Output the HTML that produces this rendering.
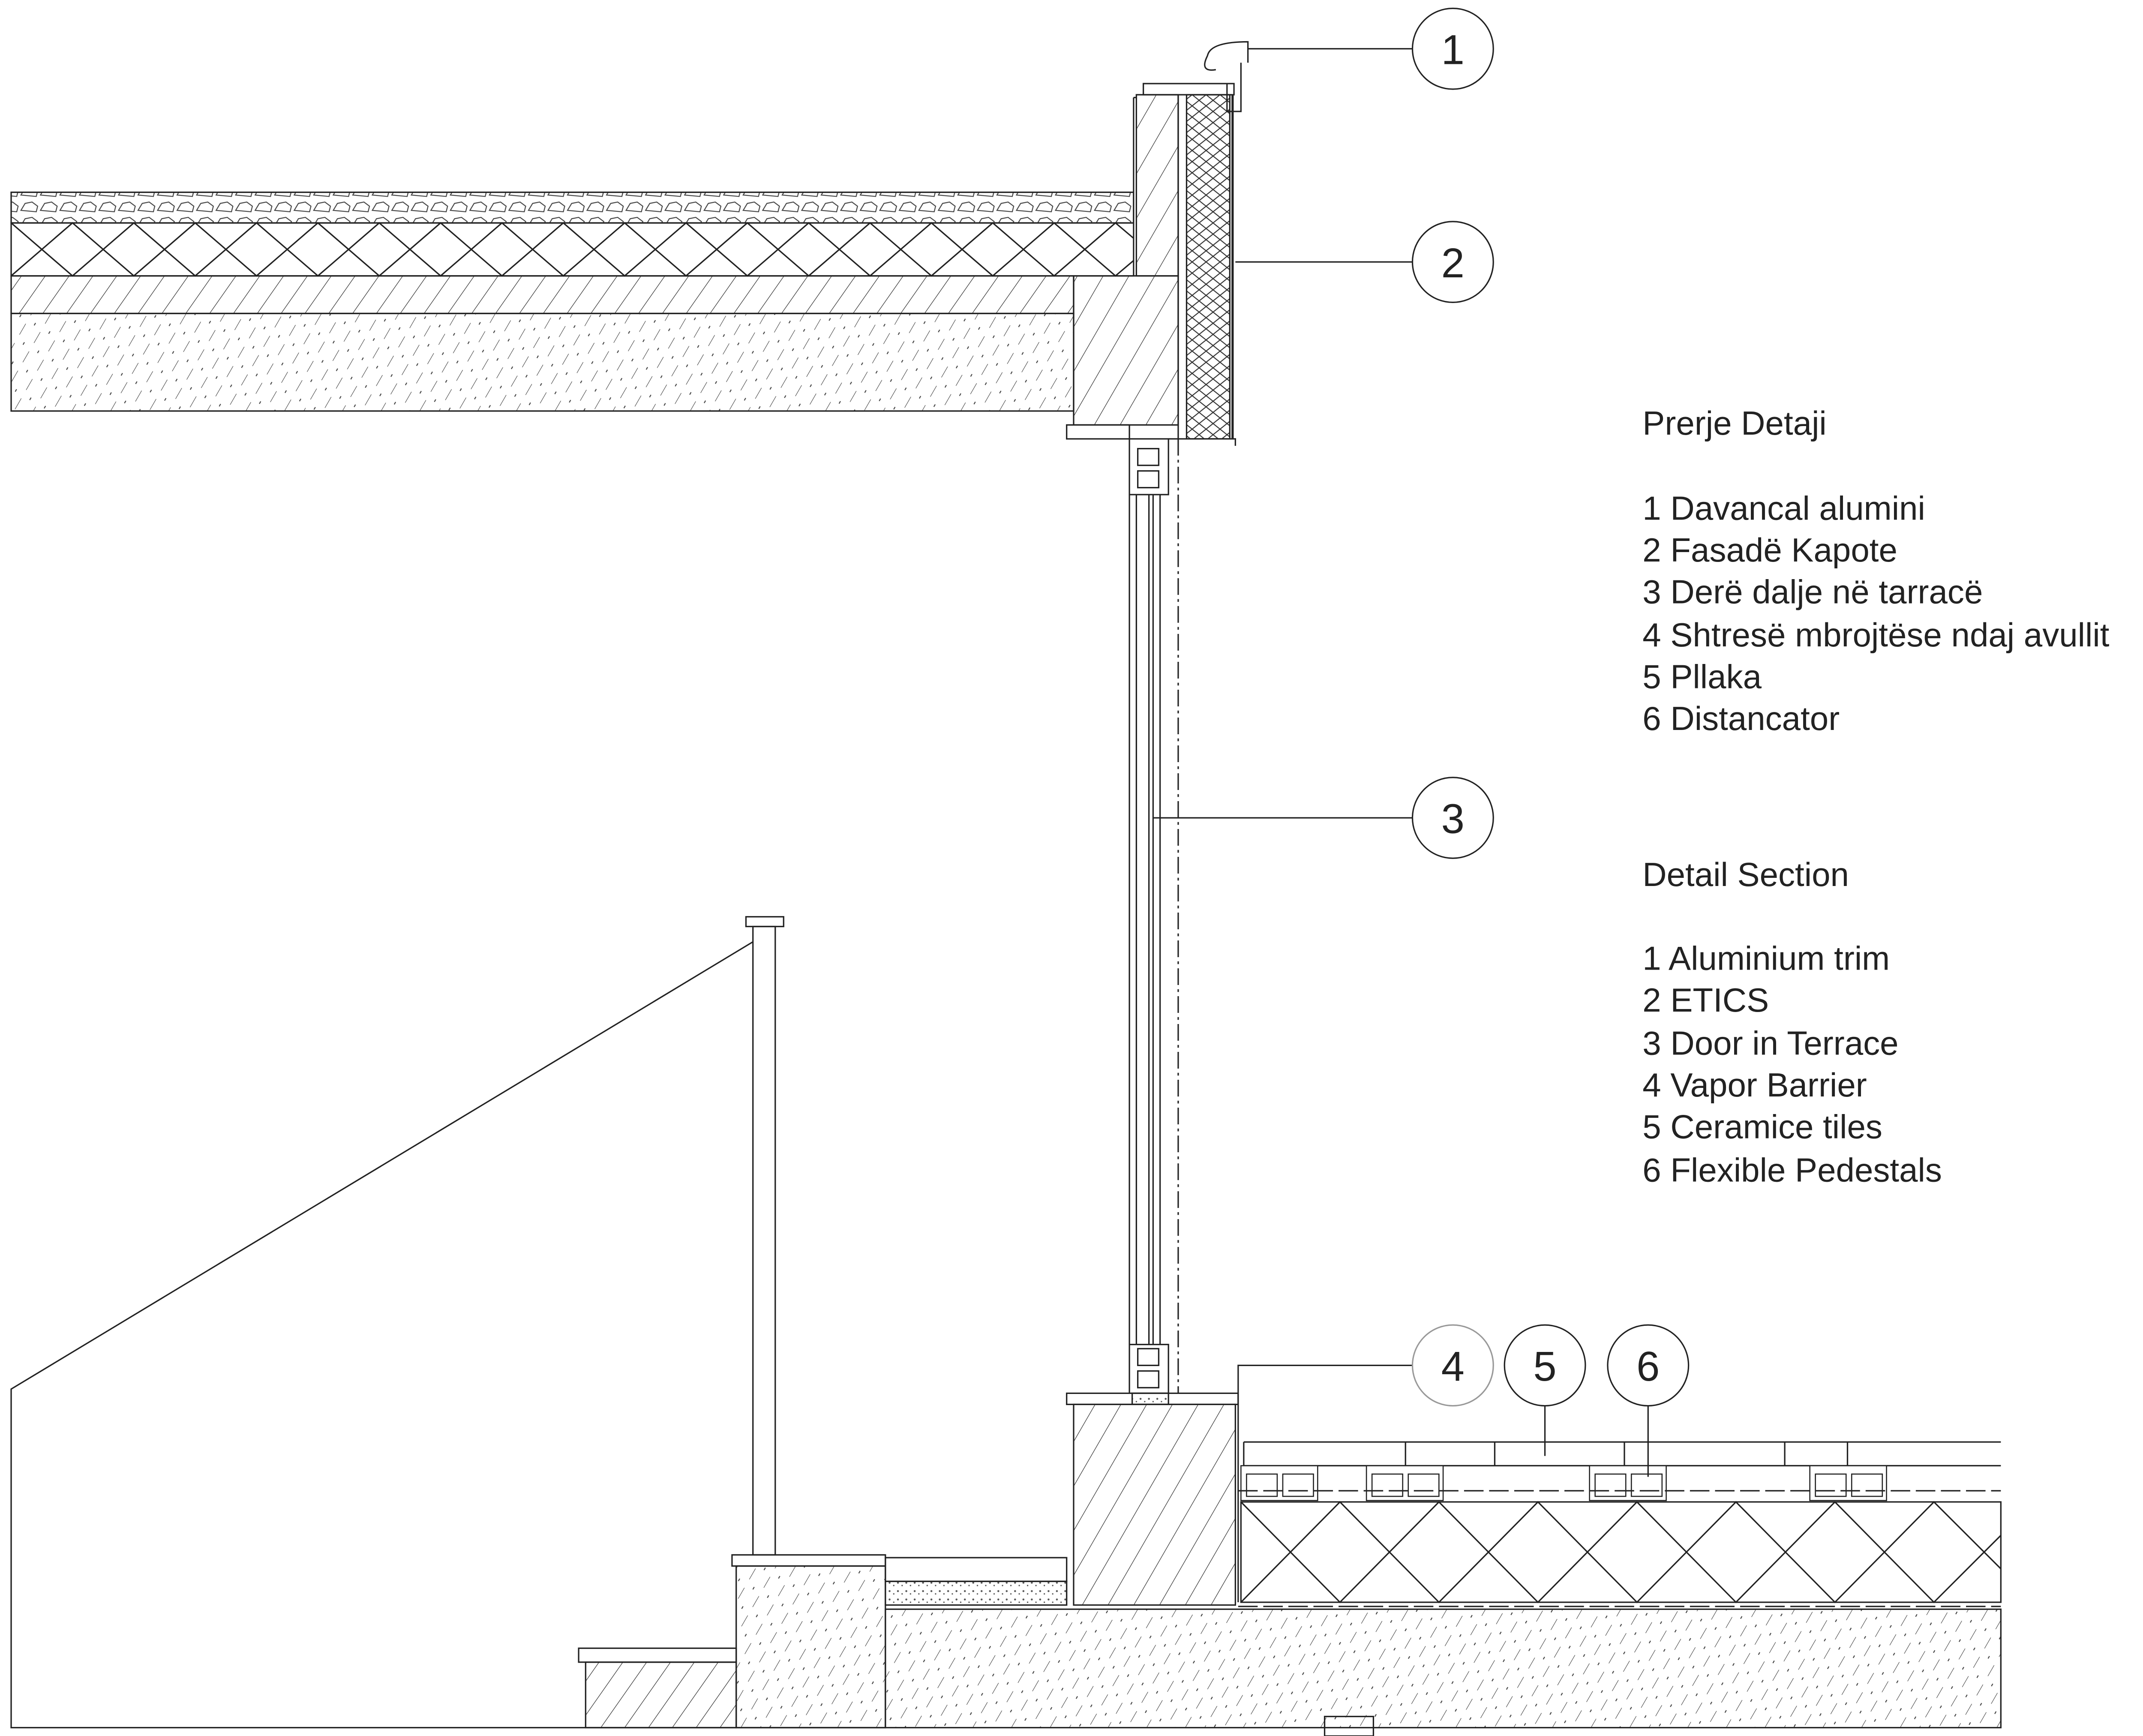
<!DOCTYPE html>
<html><head><meta charset="utf-8"><style>
html,body{margin:0;padding:0;background:#fff}
svg{display:block}
text{font-family:"Liberation Sans",sans-serif;fill:#222}
</style></head><body>
<svg width="5075" height="4050" viewBox="0 0 1560 1246" preserveAspectRatio="none" xmlns="http://www.w3.org/2000/svg">
<defs>
<pattern id="diag" width="14" height="14" patternUnits="userSpaceOnUse" patternTransform="rotate(35)">
<line x1="0" y1="0" x2="0" y2="14" stroke="#333" stroke-width="0.8"/></pattern>
<pattern id="wall" width="16" height="16" patternUnits="userSpaceOnUse" patternTransform="rotate(30)">
<line x1="0" y1="0" x2="0" y2="16" stroke="#333" stroke-width="0.8"/></pattern>
<pattern id="conc" width="12" height="16" patternUnits="userSpaceOnUse" patternTransform="rotate(30)">
<line x1="0" y1="0" x2="0" y2="9" stroke="#444" stroke-width="0.7"/><line x1="6" y1="12" x2="6" y2="14" stroke="#444" stroke-width="0.7"/></pattern>
<pattern id="cross" width="10" height="8" patternUnits="userSpaceOnUse">
<path d="M0 0L10 8M10 0L0 8" stroke="#333" stroke-width="0.7"/></pattern>
<pattern id="gravel" width="14" height="11" patternUnits="userSpaceOnUse">
<path d="M1 8 L4 3 L9 2 L13 5 L12 9 Z" fill="none" stroke="#444" stroke-width="0.7"/></pattern>
<pattern id="dots" width="6" height="6" patternUnits="userSpaceOnUse">
<circle cx="2" cy="2" r="0.7" fill="#555"/><circle cx="5" cy="4" r="0.5" fill="#555"/></pattern>
</defs>
<g stroke="#222" stroke-width="1" fill="none">
<!-- roof -->
<rect x="8" y="138" width="805" height="22" fill="url(#gravel)"/>
<rect x="8" y="160" width="805" height="38"/>
<path d="M8 160 L52 198 L96 160 L140 198 L184 160 L228 198 L272 160 L316 198 L360 160 L404 198 L448 160 L492 198 L536 160 L580 198 L624 160 L668 198 L712 160 L756 198 L800 160 L813 171"/>
<path d="M8 198 L52 160 L96 198 L140 160 L184 198 L228 160 L272 198 L316 160 L360 198 L404 160 L448 198 L492 160 L536 198 L580 160 L624 198 L668 160 L712 198 L756 160 L800 198 L813 187"/>
<rect x="8" y="198" width="762" height="27" fill="url(#diag)"/>
<rect x="8" y="225" width="762" height="70" fill="url(#conc)"/>
<rect x="770" y="198" width="75" height="107" fill="url(#wall)"/>
<rect x="765" y="305" width="45" height="10"/>
<rect x="815" y="68" width="30" height="130" fill="url(#wall)"/>
<rect x="851" y="68" width="31" height="247" fill="url(#cross)"/>
<line x1="845" y1="68" x2="845" y2="315"/>
<line x1="884" y1="68" x2="884" y2="315" stroke-width="1.6"/>
<path d="M813 160 V70 M813 70 H815"/>
<rect x="820" y="60" width="65" height="8"/>
<path d="M880 60 V80 H890 V45 M866 40 Q868 30 895 30 V45 M866 40 Q860 52 872 50"/>
<path d="M838 315 H886 V320"/>
<!-- door -->
<rect x="810" y="315" width="28" height="40"/>
<rect x="816" y="322" width="15" height="12"/>
<rect x="816" y="338" width="15" height="12"/>
<line x1="810" y1="355" x2="810" y2="965"/>
<line x1="815" y1="355" x2="815" y2="965"/>
<line x1="824" y1="355" x2="824" y2="965"/>
<line x1="827" y1="355" x2="827" y2="965"/>
<line x1="832" y1="355" x2="832" y2="965"/>
<rect x="810" y="965" width="28" height="35"/>
<rect x="816" y="968" width="15" height="12"/>
<rect x="816" y="984" width="15" height="12"/>
<line x1="845" y1="315" x2="845" y2="1000" stroke-dasharray="12 3 2 3"/>
<!-- lower wall -->
<rect x="765" y="1000" width="123" height="8"/>
<rect x="812" y="1000" width="26" height="8" fill="url(#dots)"/>
<rect x="770" y="1008" width="116" height="144" fill="url(#wall)"/>
<path d="M888 1000 V1150"/>
<!-- tiles -->
<path d="M892 1035 H1435 M892 1052 H1435 M892 1035 V1052"/>
<path d="M1008 1035V1052 M1072 1035V1052 M1165 1035V1052 M1280 1035V1052 M1325 1035V1052"/>
<g fill="#fff" stroke-width="0.8">
<rect x="890" y="1052" width="55" height="25"/><rect x="894" y="1058" width="22" height="16"/><rect x="920" y="1058" width="22" height="16"/>
<rect x="980" y="1052" width="55" height="25"/><rect x="984" y="1058" width="22" height="16"/><rect x="1010" y="1058" width="22" height="16"/>
<rect x="1140" y="1052" width="55" height="25"/><rect x="1144" y="1058" width="22" height="16"/><rect x="1170" y="1058" width="22" height="16"/>
<rect x="1298" y="1052" width="55" height="25"/><rect x="1302" y="1058" width="22" height="16"/><rect x="1328" y="1058" width="22" height="16"/>
</g>
<line x1="888" y1="1070" x2="1435" y2="1070" stroke-dasharray="14 4"/>
<rect x="890" y="1078" width="545" height="72"/>
<path d="M890 1078 L961 1150 L1032 1078 L1103 1150 L1174 1078 L1245 1150 L1316 1078 L1387 1150 L1435 1102"/>
<path d="M890 1150 L961 1078 L1032 1150 L1103 1078 L1174 1150 L1245 1078 L1316 1150 L1387 1078 L1435 1126"/>
<line x1="888" y1="1153" x2="1435" y2="1153" stroke-dasharray="14 4"/>
<rect x="635" y="1155" width="800" height="85" fill="url(#conc)"/>
<rect x="950" y="1232" width="35" height="14"/>
<!-- steps -->
<rect x="635" y="1118" width="130" height="17"/>
<rect x="635" y="1135" width="130" height="17" fill="url(#dots)"/>
<rect x="525" y="1116" width="110" height="8"/>
<rect x="528" y="1124" width="107" height="116" fill="url(#conc)"/>
<rect x="415" y="1183" width="113" height="10"/>
<rect x="420" y="1193" width="108" height="47" fill="url(#diag)"/>
<!-- railing -->
<rect x="540" y="665" width="16" height="451"/>
<rect x="535" y="658" width="27" height="7"/>
<path d="M540 676 L8 997 V1240 H635"/>
<!-- callouts -->
<line x1="895" y1="35" x2="1013" y2="35"/>
<line x1="886" y1="188" x2="1013" y2="188"/>
<line x1="827" y1="587" x2="1013" y2="587"/>
<path d="M888 1005 V980 H1013"/>
<line x1="1108" y1="1009" x2="1108" y2="1045"/>
<line x1="1182" y1="1009" x2="1182" y2="1060"/>
<circle cx="1042" cy="35" r="29" fill="#fff"/>
<circle cx="1042" cy="188" r="29" fill="#fff"/>
<circle cx="1042" cy="587" r="29" fill="#fff"/>
<circle cx="1042" cy="980" r="29" fill="#fff" stroke="#999"/>
<circle cx="1108" cy="980" r="29" fill="#fff"/>
<circle cx="1182" cy="980" r="29" fill="#fff"/>
</g>
<g font-size="30" text-anchor="middle">
<text x="1042" y="46">1</text><text x="1042" y="199">2</text><text x="1042" y="598">3</text>
<text x="1042" y="991">4</text><text x="1108" y="991">5</text><text x="1182" y="991">6</text>
</g>
<g font-size="24">
<text x="1178" y="312">Prerje Detaji</text>
<text x="1178" y="373">1 Davancal alumini</text>
<text x="1178" y="403">2 Fasadë Kapote</text>
<text x="1178" y="433">3 Derë dalje në tarracë</text>
<text x="1178" y="464">4 Shtresë mbrojtëse ndaj avullit</text>
<text x="1178" y="494">5 Pllaka</text>
<text x="1178" y="524">6 Distancator</text>
<text x="1178" y="636">Detail Section</text>
<text x="1178" y="696">1 Aluminium trim</text>
<text x="1178" y="726">2 ETICS</text>
<text x="1178" y="757">3 Door in Terrace</text>
<text x="1178" y="787">4 Vapor Barrier</text>
<text x="1178" y="817">5 Ceramice tiles</text>
<text x="1178" y="848">6 Flexible Pedestals</text>
</g>
</svg>
</body></html>
